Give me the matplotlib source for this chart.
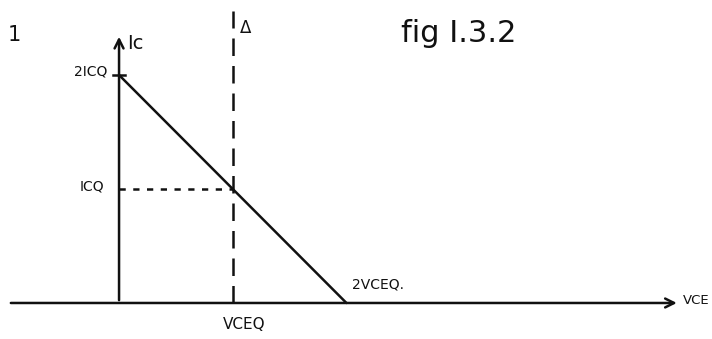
import numpy as np
import matplotlib
matplotlib.use("Agg")
import matplotlib.pyplot as plt

# quiescent point and load-line intercepts (normalised units)
icq = 1.0
vceq = 1.0
load_v = [0.0, 2 * vceq]
load_i = [2 * icq, 0.0]
tick_labels = ["2ICQ", "ICQ"]
x_labels = ["VCEQ", "2VCEQ."]

fig = plt.figure(figsize=(7.12, 3.39), dpi=100)
ax = fig.add_axes([0, 0, 1, 1])
ax.set_xlim(-1.047, 5.215)
ax.set_ylim(-0.316, 2.658)
ax.axis("off")

ink = "#111111"
lw = 1.8

# axes with open arrow heads
ax.annotate("", xy=(4.93, 0), xytext=(-0.976, 0),
            arrowprops=dict(arrowstyle="->", color=ink, lw=lw, mutation_scale=16))
ax.annotate("", xy=(0, 2.36), xytext=(0, 0),
            arrowprops=dict(arrowstyle="->", color=ink, lw=lw, mutation_scale=16))

# load line
ax.plot(load_v, load_i, color=ink, lw=lw, solid_capstyle="round")

# tick on the current axis at 2ICQ
ax.plot([-0.05, 0.05], [load_i[0], load_i[0]], color=ink, lw=lw)

# dashed vertical through VCEQ
ax.plot([vceq, vceq], [0, 2.56], color=ink, lw=lw, linestyle=(0, (7, 4)))

# dotted projection of ICQ
ax.plot([0, vceq], [icq, icq], color=ink, lw=lw, linestyle=(0, (2.5, 3)))

fs = 10
ax.text(-0.92, 2.35, "1", fontsize=15, color=ink, ha="center", va="center")
ax.text(0.07, 2.28, "Ic", fontsize=14, color=ink, ha="left", va="center")
ax.text(-0.1, load_i[0] + 0.03, tick_labels[0], fontsize=fs, color=ink,
        ha="right", va="center")
ax.text(-0.13, icq + 0.02, tick_labels[1], fontsize=fs, color=ink,
        ha="right", va="center")
ax.text(vceq + 0.06, 2.41, "Δ", fontsize=12, color=ink, ha="left", va="center")
ax.text(2.48, 2.36, "fig I.3.2", fontsize=22, color=ink, ha="left", va="center")
ax.text(vceq + 0.1, -0.19, x_labels[0], fontsize=fs + 1, color=ink,
        ha="center", va="center")
ax.text(load_v[1] + 0.05, 0.16, x_labels[1], fontsize=fs, color=ink,
        ha="left", va="center")
ax.text(4.955, 0.02, "VCE", fontsize=9.5, color=ink, ha="left", va="center")

fig.savefig("out.png", dpi=100, facecolor="white")
